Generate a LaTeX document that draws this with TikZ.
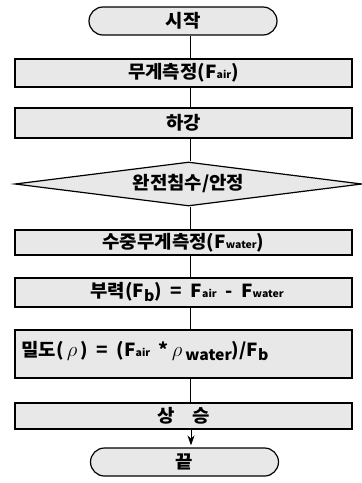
\documentclass[tikz,border=0pt]{standalone}
\usepackage{fontspec}
\newfontfamily\kr{Noto Sans CJK KR}[FakeStretch=1.05]
\usetikzlibrary{shapes.geometric,shapes.misc,arrows.meta}
\newcommand\smsub[1]{{\fontsize{10}{10}\selectfont #1}}
\newcommand\lowsub[1]{\raisebox{-4pt}{\fontsize{15}{15}\selectfont #1}}
\newcommand\bigrho{{\fontsize{20}{20}\selectfont$\rho$}}
\begin{document}
\begin{tikzpicture}[x=1pt,y=-1pt,
  font=\kr\bfseries\fontsize{18}{18}\selectfont,
  box/.style={draw, line width=1.6pt, fill=black!9, minimum width=337pt, inner sep=0pt},
  term/.style={draw, line width=1.2pt, fill=black!9, rounded rectangle, minimum width=188pt, minimum height=28pt, inner sep=0pt},
  dec/.style={draw, line width=1.2pt, fill=black!9, diamond, aspect=7.9, minimum width=347pt, minimum height=44pt, inner sep=0pt},
  conn/.style={line width=1pt}]
\useasboundingbox (0,0) rectangle (362,483);
\coordinate (cx) at (190,0);
\coordinate (cx2) at (191,0);
\node[term] (start) at (183,21) {시작};
\node[box, minimum height=28pt] (b1) at (183.5,73) {무게측정(F\smsub{air})};
\node[box, minimum height=30pt] (b2) at (183.5,123) {하강};
\node[dec] (d) at (188.5,184) {완전침수/안정};
\node[box, minimum height=25pt] (b4) at (183.5,242.5) {수중무게측정(F\smsub{water})};
\node[box, minimum height=29pt] (b5) at (183.5,292.5) {};
\node (t5) at (187,292.5) {부력(F\lowsub{b})\ \ =\ \ F\smsub{air}\ \ -\ \ F\smsub{water}};
\node[box, minimum height=48pt] (b6) at (183.5,354) {};
\node[anchor=west] (t6) at (18,351) {밀도(\,\bigrho\,)\ \ =\ \ (F\smsub{air}\ \ *\,\bigrho\,\lowsub{water})/F\lowsub{b}};
\node[box, minimum height=26pt] (b7) at (183.5,416) {상\quad 승};
\node[term] (end) at (184.5,462) {끝};
\draw[conn] (start.south -| cx) -- (b1.north -| cx);
\draw[conn] (b1.south -| cx) -- (b2.north -| cx);
\draw[conn] (b2.south -| cx) -- (d.north -| cx);
\draw[conn] (d.south -| cx) -- (b4.north -| cx);
\draw[conn] (b4.south -| cx) -- (b5.north -| cx);
\draw[conn] (b5.south -| cx) -- (b6.north -| cx);
\draw[conn] (b6.south -| cx) -- (b7.north -| cx);
\draw[conn,-{Stealth[length=10pt,width=7pt]}] (b7.south -| cx2) -- ([yshift=2pt]end.north -| cx2);
\end{tikzpicture}
\end{document}
